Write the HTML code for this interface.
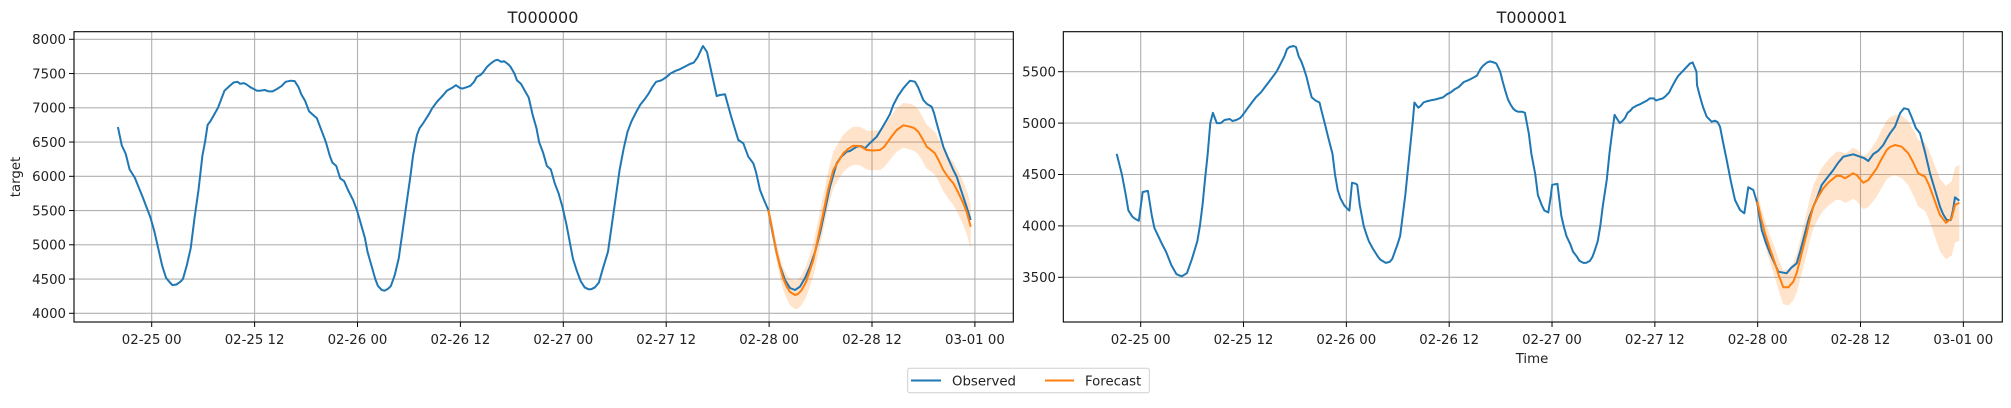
<!DOCTYPE html>
<html><head><meta charset="utf-8"><style>
body{margin:0;background:#fff;width:2011px;height:403px;overflow:hidden}
svg text{font-family:"DejaVu Sans","Liberation Sans",sans-serif;fill:#222}
</style></head><body>
<svg id="s" width="2011" height="403" xmlns="http://www.w3.org/2000/svg">
<defs>
<clipPath id="cl"><rect x="74" y="31.7" width="939.3" height="290.3"/></clipPath>
<clipPath id="cr"><rect x="1063.3" y="31.7" width="939" height="290.3"/></clipPath>
</defs>
<g id="grid" stroke="#b0b0b0" stroke-width="1.1"></g>
<g id="data"></g>
<rect x="74" y="31.7" width="939.3" height="290.3" fill="none" stroke="#000" stroke-width="1.1"/>
<rect x="1063.3" y="31.7" width="939" height="290.3" fill="none" stroke="#000" stroke-width="1.1"/>
<g id="ticks" stroke="#000" stroke-width="1"></g>
<g font-size="13.3" text-anchor="end">
<text x="66" y="318">4000</text><text x="66" y="283.8">4500</text><text x="66" y="249.5">5000</text><text x="66" y="215.3">5500</text><text x="66" y="181">6000</text><text x="66" y="146.8">6500</text><text x="66" y="112.5">7000</text><text x="66" y="78.3">7500</text><text x="66" y="44">8000</text>
<text x="1056" y="282">3500</text><text x="1056" y="230.6">4000</text><text x="1056" y="179.2">4500</text><text x="1056" y="127.8">5000</text><text x="1056" y="76.4">5500</text>
</g>
<g font-size="13.3" text-anchor="middle">
<text x="151.7" y="344">02-25 00</text><text x="254.6" y="344">02-25 12</text><text x="357.5" y="344">02-26 00</text><text x="460.4" y="344">02-26 12</text><text x="563.3" y="344">02-27 00</text><text x="666.2" y="344">02-27 12</text><text x="769.1" y="344">02-28 00</text><text x="872" y="344">02-28 12</text><text x="974.9" y="344">03-01 00</text>
<text x="1140.7" y="344">02-25 00</text><text x="1243.5" y="344">02-25 12</text><text x="1346.3" y="344">02-26 00</text><text x="1449.2" y="344">02-26 12</text><text x="1552" y="344">02-27 00</text><text x="1654.8" y="344">02-27 12</text><text x="1757.7" y="344">02-28 00</text><text x="1860.5" y="344">02-28 12</text><text x="1963.3" y="344">03-01 00</text>
<text x="1532" y="363">Time</text>
<text x="543" y="23" font-size="16">T000000</text>
<text x="1532" y="23" font-size="16">T000001</text>
<text transform="translate(20,177) rotate(-90)">target</text>
</g>
<rect x="907.7" y="368.3" width="241.6" height="24.4" rx="2" fill="#fff" stroke="#d0d0d0"/>
<line x1="911" y1="380.5" x2="941" y2="380.5" stroke="#1f77b4" stroke-width="2"/>
<line x1="1045" y1="380.5" x2="1074" y2="380.5" stroke="#ff7f0e" stroke-width="2"/>
<g font-size="13.3"><text x="952" y="385.5">Observed</text><text x="1085" y="385.5">Forecast</text></g>
</svg>
<script>
var NS="http://www.w3.org/2000/svg";
function el(p,t,a){var e=document.createElementNS(NS,t);for(var k in a)e.setAttribute(k,a[k]);p.appendChild(e);return e;}
var grid=document.getElementById('grid'),ticks=document.getElementById('ticks'),data=document.getElementById('data');
function LY(v){return 313.3-(v-4000)*0.0685;}
function RY(v){return 277.3-(v-3500)*0.1028;}
for(var k=0;k<9;k++){var x=151.7+k*102.9;el(grid,'line',{x1:x,x2:x,y1:31.7,y2:322});el(ticks,'line',{x1:x,x2:x,y1:322,y2:327});
 var x2=1140.7+k*102.83;el(grid,'line',{x1:x2,x2:x2,y1:31.7,y2:322});el(ticks,'line',{x1:x2,x2:x2,y1:322,y2:327});}
for(var v=4000;v<=8000;v+=500){var y=LY(v);el(grid,'line',{x1:74,x2:1013.3,y1:y,y2:y});el(ticks,'line',{x1:69,x2:74,y1:y,y2:y});}
for(var v=3500;v<=5500;v+=500){var y=RY(v);el(grid,'line',{x1:1063.3,x2:2002.3,y1:y,y2:y});el(ticks,'line',{x1:1058,x2:1063.3,y1:y,y2:y});}
function dx(xd){return xd*1.3-0.4;}
var L=[[91,6720],[94,6450],[97,6330],[100,6100],[104,5980],[110,5700],[116,5400],[119,5200],[122,4950],[125,4700],[128,4520],[131,4450],[133,4410],[136,4420],[139,4460],[141,4500],[144,4700],[147,4950],[150,5400],[153,5800],[156,6300],[158,6500],[160,6750],[162,6800],[165,6900],[168,7000],[171,7150],[173,7250],[177,7320],[180,7370],[183,7380],[185,7350],[188,7360],[190,7340],[193,7300],[195,7280],[198,7250],[200,7250],[204,7260],[207,7240],[210,7240],[213,7270],[217,7320],[220,7380],[224,7395],[227,7390],[230,7300],[232,7200],[235,7100],[238,6950],[241,6900],[244,6850],[248,6650],[251,6500],[254,6300],[256,6200],[259,6150],[262,5970],[265,5930],[268,5800],[272,5650],[275,5500],[278,5300],[281,5100],[283,4900],[286,4700],[289,4500],[291,4400],[294,4340],[296,4330],[299,4360],[301,4400],[304,4560],[307,4800],[310,5200],[313,5600],[316,6000],[318,6300],[321,6600],[323,6700],[326,6780],[330,6900],[333,7000],[337,7100],[341,7180],[344,7250],[348,7290],[351,7330],[354,7290],[356,7280],[359,7300],[362,7320],[365,7380],[367,7450],[370,7480],[372,7520],[375,7600],[378,7650],[381,7690],[383,7700],[386,7670],[388,7680],[391,7640],[393,7600],[396,7500],[398,7400],[401,7350],[404,7250],[407,7150],[410,6900],[413,6700],[415,6500],[418,6350],[421,6150],[424,6100],[427,5900],[430,5750],[433,5550],[436,5300],[439,5000],[441,4800],[444,4620],[447,4470],[450,4380],[453,4350],[455,4350],[458,4380],[461,4450],[464,4650],[468,4900],[471,5300],[474,5700],[477,6100],[480,6400],[483,6650],[486,6800],[490,6950],[493,7050],[496,7120],[499,7200],[502,7300],[505,7380],[509,7400],[513,7450],[516,7500],[520,7540],[523,7560],[527,7600],[531,7640],[534,7660],[537,7740],[539,7820],[541,7900]];
var Lobs=L.map(function(p){return [dx(p[0]),LY(p[1])];});
Lobs=Lobs.concat([[703,46],[707,52],[716.7,96],[720,95],[725,94.3],[731,116],[738.3,140],[743.3,143.3],[748.3,156.7],[753.3,163.3],[756,172],[760,190],[764,200],[768.3,210],[772,230],[776.7,253],[780,266],[785,280],[790,288],[795,290],[800,286.7],[805,278],[810,266.7],[815,252],[820,233],[825,210],[830,186.7],[836.7,163.3],[841,157],[846.7,151.7],[850,151],[856.7,146.7],[861,146],[865,148.3],[870,143],[876.7,136.7],[882,128],[886.7,120],[890,114],[893.3,105],[898,96],[903.3,88.3],[907,84],[910,80.7],[915,81.7],[918,87],[923.3,100],[927,104],[931.7,106.7],[934,113],[936.7,123.3],[940,135],[943.3,146.7],[948,158],[953.3,170],[956.7,176.7],[961,190],[966,205],[970.7,220]]);
var Lfc=[[768.3,210],[772,228],[776,250],[780,266.7],[783,278],[786.7,286.7],[790,292],[795,295],[798,294],[801.7,290],[806,282],[810,270],[813.3,260],[818,238],[823.3,213],[828,190],[833.3,170],[838,162],[843.3,153.3],[848,149],[853.3,145.7],[860,146],[866.7,150],[873,150.5],[880,150],[884,147],[886.7,143.3],[892,136],[896.7,130],[903.3,125.3],[910,126.7],[914,128],[918.3,131.7],[922,138],[926.7,146.7],[931,150],[935,153.3],[939,161],[943.3,170],[948,177],[953.3,183.3],[958,192],[963.3,203.3],[967,213],[970.7,226.7]];
function rx(xd){return 1140.7+(xd-879.5)*1.3;}
var R=[[861,4700],[865,4500],[868,4300],[870,4150],[873,4090],[875,4070],[878,4050],[881,4330],[885,4340],[888,4100],[890,3980],[893,3900],[896,3820],[899,3750],[903,3620],[907,3530],[911,3510],[915,3540],[919,3680],[923,3850],[925,4000],[927,4200],[929,4450],[931,4700],[933,5000],[935,5100],[938,5000],[941,5000],[944,5030],[948,5040],[950,5020],[953,5030],[956,5050],[958,5080],[962,5150],[965,5200],[968,5250],[972,5300],[975,5350],[978,5400],[981,5450],[984,5500],[986,5550],[988,5600],[990,5650],[992,5720],[994,5740],[997,5750],[999,5740],[1001,5650],[1003,5600],[1005,5530],[1007,5450],[1009,5350],[1011,5250],[1014,5220],[1017,5200],[1019,5100],[1021,5000],[1024,4850],[1027,4700],[1029,4500],[1031,4350],[1033,4270],[1036,4200],[1039,4160],[1040,4150],[1042,4420],[1045,4410],[1046,4400],[1048,4200],[1051,4000],[1053,3920],[1055,3850],[1058,3780],[1060,3740],[1062,3700],[1064,3670],[1068,3640],[1071,3650],[1073,3680],[1075,3750],[1077,3820],[1079,3900],[1081,4100],[1083,4300],[1085,4550],[1087,4800],[1089,5050],[1090,5200],[1093,5150],[1095,5170],[1097,5200],[1099,5210],[1102,5220],[1106,5230],[1109,5240],[1112,5250],[1115,5280],[1118,5300],[1121,5330],[1124,5350],[1128,5400],[1132,5420],[1135,5440],[1138,5460],[1141,5530],[1143,5560],[1146,5590],[1148,5600],[1151,5590],[1153,5580],[1156,5500],[1158,5400],[1160,5310],[1162,5230],[1164,5180],[1166,5140],[1168,5120],[1170,5110],[1173,5110],[1175,5100],[1178,4900],[1180,4700],[1183,4500],[1185,4300],[1188,4200],[1190,4150],[1193,4130],[1195,4300],[1196,4400],[1200,4410],[1203,4100],[1205,3990],[1207,3900],[1210,3820],[1212,3750],[1215,3700],[1217,3660],[1220,3640],[1222,3640],[1225,3660],[1227,3700],[1229,3770],[1231,3850],[1233,4000],[1235,4200],[1238,4450],[1240,4700],[1242,4900],[1244,5080],[1246,5040],[1248,5000],[1250,5020],[1252,5050],[1254,5100],[1256,5120],[1258,5150],[1261,5170],[1263,5180],[1266,5200],[1269,5220],[1271,5240],[1274,5240],[1276,5220],[1278,5230],[1281,5240],[1283,5260],[1286,5300],[1288,5350],[1291,5420],[1293,5460],[1296,5500],[1299,5540],[1302,5580],[1304,5590],[1307,5500]];
var Robs=R.map(function(p){return [rx(p[0]),RY(p[1])];});
Robs=Robs.concat([[1697,85],[1700,96.7],[1703,107],[1706.7,116.7],[1711.7,121.7],[1715,120.7],[1717.5,122],[1720,126.7],[1723,142],[1726.7,160],[1731,182],[1735,200],[1740,210],[1744.3,213.3],[1748.3,187.3],[1753.3,190],[1757.3,203.3],[1761.7,230],[1766,243],[1770,253.3],[1774,262],[1778.3,271.7],[1786.7,273.3],[1791,268],[1796.7,263.3],[1800,252],[1805,233.3],[1809,218],[1813.3,206.7],[1817,198],[1821.7,185],[1827,178],[1833.3,170],[1838,163],[1843.3,156.7],[1853.3,154.3],[1860,156.7],[1864,158],[1868.3,161],[1873.3,154],[1878,151],[1883.3,145],[1886,140],[1890,133.3],[1895,126.7],[1900,113.3],[1904,108.3],[1908.3,109.3],[1912,118],[1916,128.3],[1920,133.3],[1925,152],[1930,173.3],[1935,190],[1940,206.7],[1943,214],[1946.7,220],[1950.7,220],[1953,210],[1955,197.3],[1959.3,200.7]]);
var Rfc=[[1757.3,201.7],[1761,218],[1765,233.3],[1770,249],[1775,263.3],[1779,276],[1783.3,287.3],[1788.3,287.3],[1793.3,281.7],[1797,272],[1800,260],[1803,248],[1806.7,233.3],[1810,219],[1813.3,206.7],[1818,197],[1823.3,188.3],[1829,182],[1836.7,175.7],[1841,176],[1845,178.3],[1849,176],[1852.7,173.3],[1856.7,175],[1860,179],[1863.3,182.7],[1868.3,180],[1872,175],[1876.7,168.3],[1881,160],[1886.7,150],[1890,147],[1895,145],[1901.7,146.7],[1905,150],[1908.3,153.3],[1913,162],[1918.3,173.3],[1925,176.7],[1929,185],[1933.3,196.7],[1937,207],[1940,215],[1946,222.7],[1951.7,218.3],[1955,205],[1959.3,202.7]];
function pathOf(pts){return 'M'+pts.map(function(p){return p[0].toFixed(1)+','+p[1].toFixed(1);}).join('L');}
function hw(f,knots){for(var i=1;i<knots.length;i++){if(f<=knots[i][0]){var a=knots[i-1],b=knots[i],u=(f-a[0])/(b[0]-a[0]);return a[1]+u*(b[1]-a[1]);}}return knots[knots.length-1][1];}
function band(pts,knots){var x0=pts[0][0],x1=pts[pts.length-1][0];var up=[],lo=[];
 pts.forEach(function(p){var h=hw((p[0]-x0)/(x1-x0),knots);up.push([p[0],p[1]-h]);lo.push([p[0],p[1]+h]);});
 return pathOf(up.concat(lo.reverse()))+'Z';}
function draw(clip,obs,fc,knots){var g=el(data,'g',{'clip-path':'url(#'+clip+')'});
 el(g,'path',{d:band(fc,knots),fill:'#ff7f0e','fill-opacity':'0.22',stroke:'none'});
 el(g,'path',{d:pathOf(obs),fill:'none',stroke:'#1f77b4','stroke-width':'2','stroke-linejoin':'round'});
 el(g,'path',{d:pathOf(fc),fill:'none',stroke:'#ff7f0e','stroke-width':'2','stroke-linejoin':'round'});}
draw('cl',Lobs,Lfc,[[0,6],[0.12,14],[0.3,18],[0.55,20],[0.7,23],[0.85,21],[1,22]]);
draw('cr',Robs,Rfc,[[0,10],[0.15,18],[0.25,21],[0.5,26],[0.75,32],[0.9,36],[1,38]]);
</script>
</body></html>
